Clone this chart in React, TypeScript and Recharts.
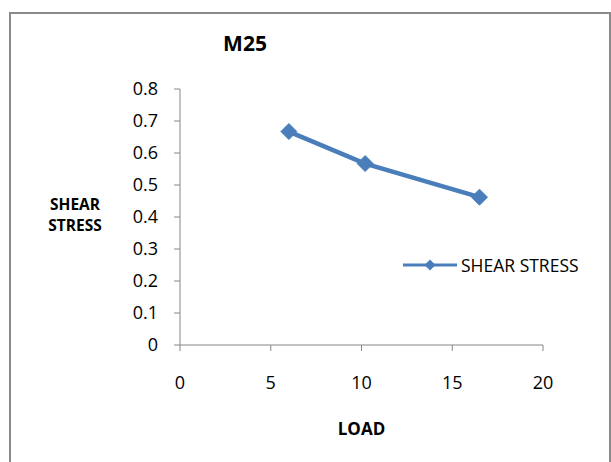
import { LineChart, Line, XAxis, YAxis } from "recharts";

const loads = [6, 10.2, 16.5];
const shearStress = [0.667, 0.567, 0.462];
const xTicks = [0, 5, 10, 15, 20];
const yTicks = [0, 0.1, 0.2, 0.3, 0.4, 0.5, 0.6, 0.7, 0.8];

const data = loads.map((load, i) => ({ load, stress: shearStress[i] }));

const BLUE = "#4a7ebb";
const AXIS = "#868686";
const FONT = "'Open Sans', 'Noto Sans', sans-serif";

const Diamond = (props: any) => {
  const { cx, cy } = props;
  if (cx == null || cy == null) return null;
  const r = 8;
  return <polygon points={`${cx},${cy - r} ${cx + r},${cy} ${cx},${cy + r} ${cx - r},${cy}`} fill={BLUE} stroke={BLUE} />;
};

// two-line y axis title, like the Excel original
const YLabel = () => (
  <g fontFamily={FONT} fontWeight={700} fontSize={15.5} fill="#000" textAnchor="middle">
    <text x={75} y={209.5}>SHEAR</text>
    <text x={75} y={230.5}>STRESS</text>
  </g>
);

const XLabel = () => (
  <text x={361.5} y={435} textAnchor="middle" fontFamily={FONT} fontWeight={700} fontSize={17} fill="#000">LOAD</text>
);

export default function App() {
  return (
    <div style={{ position: "absolute", left: 0, top: 0, width: 611, height: 462, background: "#fff", overflow: "hidden" }}>
      <div style={{ position: "absolute", left: 9, top: 12, width: 598, height: 470, border: "2px solid #8a8a8a" }} />
      <div style={{ position: "absolute", left: 0, top: 0 }}>
        <LineChart width={611} height={462} data={data} margin={{ top: 89, right: 68, left: 0, bottom: 87 }}>
          <XAxis
            dataKey="load"
            type="number"
            domain={[0, 20]}
            ticks={xTicks}
            stroke={AXIS}
            tickSize={6}
            tickMargin={25}
            height={30}
            tick={{ fontSize: 18, fontFamily: FONT, fill: "#000" }}
            label={<XLabel />}
          />
          <YAxis
            type="number"
            domain={[0, 0.8]}
            ticks={yTicks}
            stroke={AXIS}
            tickSize={6}
            tickMargin={16}
            width={180}
            tick={{ fontSize: 18, fontFamily: FONT, fill: "#000" }}
            label={<YLabel />}
          />
          <Line dataKey="stress" name="SHEAR STRESS" stroke={BLUE} strokeWidth={4.5} dot={<Diamond />} activeDot={false} isAnimationActive={false} />
        </LineChart>
      </div>
      <svg width={611} height={462} style={{ position: "absolute", left: 0, top: 0, pointerEvents: "none" }}>
        <text x={245} y={50.5} textAnchor="middle" fontFamily={FONT} fontWeight={700} fontSize={21} fill="#000">M25</text>
        <line x1={403} y1={265} x2={457} y2={265} stroke={BLUE} strokeWidth={3} />
        <polygon points="430,259.5 435.5,265 430,270.5 424.5,265" fill={BLUE} />
        <text x={461} y={271.5} fontFamily={FONT} fontSize={17.5} fill="#000">SHEAR STRESS</text>
      </svg>
    </div>
  );
}
